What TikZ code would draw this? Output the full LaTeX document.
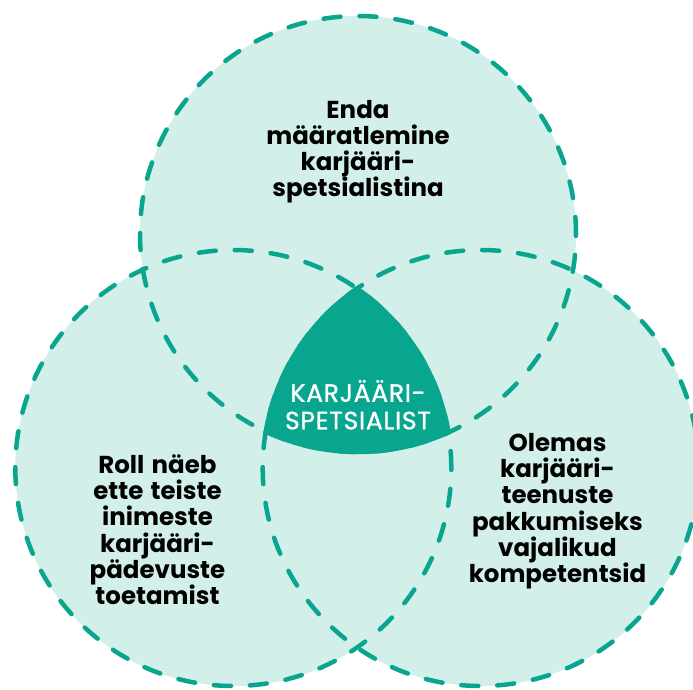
\documentclass[tikz,border=0pt]{standalone}
\usepackage{fontspec}
\setmainfont{Poppins}[WordSpace=1.4]
\newfontfamily\centerfont{Poppins}[FakeBold=1.2,LetterSpace=3,WordSpace=1.4]
\definecolor{mint}{RGB}{210,239,233}
\definecolor{teal2}{RGB}{8,165,143}
\begin{document}
\begin{tikzpicture}[x=1pt,y=-1pt,
  ring/.style={draw=teal2,line width=4.5pt,dash pattern=on 17pt off 19pt,line cap=round},
  lbl/.style={align=center,text=black,font=\bfseries\fontsize{24.5}{26.2}\selectfont,inner sep=0pt},
  clbl/.style={align=center,text=white,font=\centerfont\fontsize{25}{27.5}\selectfont,inner sep=0pt}]
\useasboundingbox (0,0) rectangle (693,689);
\clip (0,0) rectangle (693,689);
\coordinate (cT) at (358,234);
\coordinate (cL) at (233.3,468);
\coordinate (cR) at (480.7,468);
\fill[mint] (cT) circle (218pt);
\fill[mint] (cL) circle (218pt);
\fill[mint] (cR) circle (218pt);
\draw[ring] (cT) circle (218pt);
\draw[ring] (cL) circle (218pt);
\draw[ring] (cR) circle (218pt);
\begin{scope}
  \clip (cL) circle (220.2pt);
  \clip (cR) circle (220.2pt);
  \fill[teal2] (cT) circle (220.2pt);
\end{scope}
\node[lbl,anchor=base] (tT) at (358,196.6) {Enda\\määratlemine\\karjääri-\\spetsialistina};
\node[lbl,anchor=base] (tL) at (157.5,604.5) {Roll näeb\\ette teiste\\inimeste\\karjääri-\\pädevuste\\toetamist};
\node[lbl,anchor=base] (tR) at (557.5,582.4) {Olemas\\karjääri-\\teenuste\\pakkumiseks\\vajalikud\\kompetentsid};
\node[clbl,anchor=base] (tC) at (358,429.3) {KARJÄÄRI-\\SPETSIALIST};
\end{tikzpicture}
\end{document}
